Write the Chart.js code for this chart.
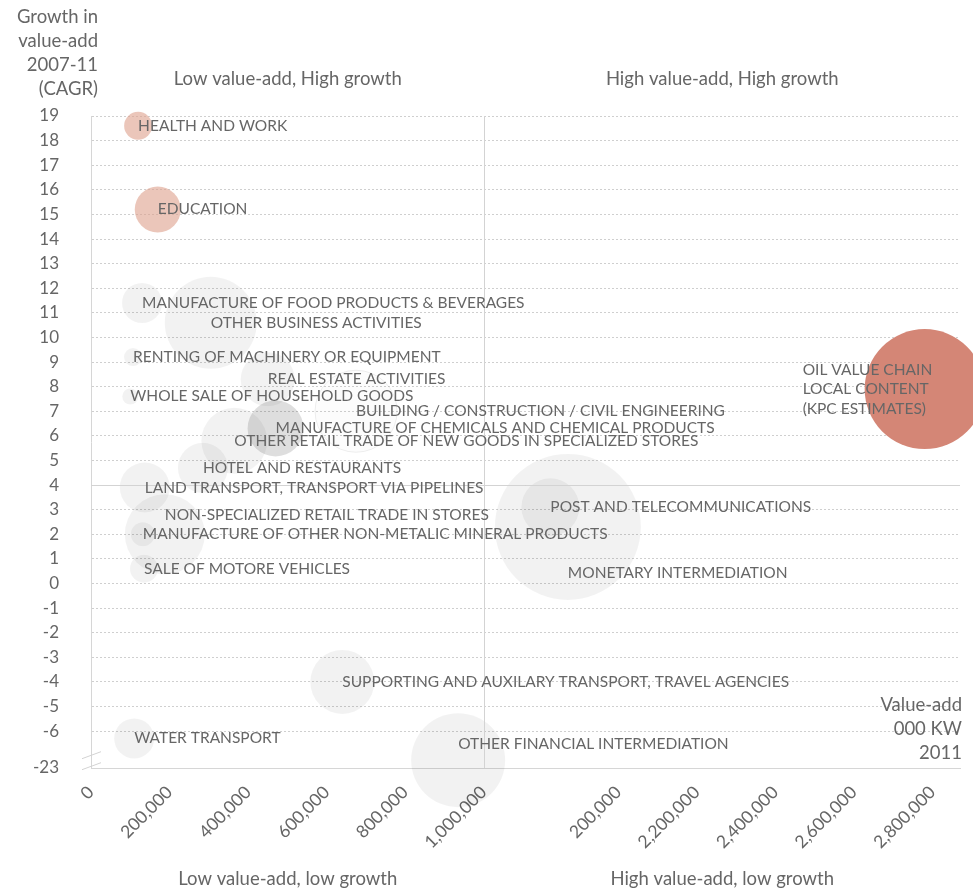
<!DOCTYPE html>
<html>
<head>
    <title>Value-add and growth by sector</title>
    <script src="https://cdn.jsdelivr.net/npm/chart.js"></script>
    <style>
        body { margin: 0; background: #fff; }
    </style>
</head>
<body>
    <canvas id="myChart" width="973" height="890"></canvas>

    <script>
        // sectors, value-add (000 KW, 2011) and growth in value-add (CAGR 2007-11, %)
        const sectors = [
            'HEALTH AND WORK',
            'EDUCATION',
            'MANUFACTURE OF FOOD PRODUCTS & BEVERAGES',
            'OTHER BUSINESS ACTIVITIES',
            'RENTING OF MACHINERY OR EQUIPMENT',
            'REAL ESTATE ACTIVITIES',
            'WHOLE SALE OF HOUSEHOLD GOODS',
            'BUILDING / CONSTRUCTION / CIVIL ENGINEERING',
            'OTHER RETAIL TRADE OF NEW GOODS IN SPECIALIZED STORES',
            'MANUFACTURE OF CHEMICALS AND CHEMICAL PRODUCTS',
            'HOTEL AND RESTAURANTS',
            'LAND TRANSPORT, TRANSPORT VIA PIPELINES',
            'NON-SPECIALIZED RETAIL TRADE IN STORES',
            'MANUFACTURE OF OTHER NON-METALIC MINERAL PRODUCTS',
            'SALE OF MOTORE VEHICLES',
            'MONETARY INTERMEDIATION',
            'POST AND TELECOMMUNICATIONS',
            'SUPPORTING AND AUXILARY TRANSPORT, TRAVEL AGENCIES',
            'WATER TRANSPORT',
            'OTHER FINANCIAL INTERMEDIATION',
            'OIL VALUE CHAIN\nLOCAL CONTENT\n(KPC ESTIMATES)'
        ];
        const valueAdd = [120000, 170000, 130000, 305000, 107000, 450000, 100000, 675000, 365000, 470000,
                          285000, 137000, 188000, 132000, 135000, 1625000, 1495000, 640000, 110000, 935000, 2780000];
        const growth = [18.6, 15.2, 11.4, 10.6, 9.2, 8.3, 7.6, 7.0, 5.8, 6.3,
                        4.7, 3.9, 2.0, 2.0, 0.6, 2.3, 3.1, -4.0, -6.3, -12.8, 7.9];
        const bubbleSize = [14, 23, 20, 46, 9, 27, 8, 41, 33, 28, 25, 25, 40, 12, 14, 73, 29, 32, 20, 47, 60];

        const xTickValues = [0, 200000, 400000, 600000, 800000, 1000000, 2000000, 2200000, 2400000, 2600000, 2800000];
        const xTickLabels = ['0', '200,000', '400,000', '600,000', '800,000', '1,000,000',
                             '200,000', '2,200,000', '2,400,000', '2,600,000', '2,800,000'];
        const yTickValues = [19, 18, 17, 16, 15, 14, 13, 12, 11, 10, 9, 8, 7, 6, 5, 4, 3, 2, 1, 0, -1, -2, -3, -4, -5, -6, -23];
        const yTickLabels = yTickValues.map(v => String(v));

        // both axes are broken: x jumps from 1,000,000 to 2,000,000, y from -7 to -23
        function breakX(v) {
            if (v <= 1000000) return v;
            if (v >= 2000000) return v - 657000;
            return 1000000 + (v - 1000000) * 0.343;
        }
        function breakY(v) {
            return v >= -7 ? v : -7 + (v + 7) * 0.5 / 16;
        }

        // label offsets where the label sits away from its bubble
        const labelShift = {
            'NON-SPECIALIZED RETAIL TRADE IN STORES': [0, -19],
            'MONETARY INTERMEDIATION': [0, 46],
            'OTHER FINANCIAL INTERMEDIATION': [0, -16],
            'OIL VALUE CHAIN\nLOCAL CONTENT\n(KPC ESTIMATES)': [-122, 0]
        };

        function bubbleColour(name) {
            if (name === 'HEALTH AND WORK' || name === 'EDUCATION') return 'rgba(222, 160, 140, 0.6)';
            if (name.startsWith('OIL')) return 'rgb(212, 134, 118)';
            if (name.startsWith('MANUFACTURE OF CHEMICALS')) return 'rgba(0, 0, 0, 0.13)';
            if (name.startsWith('BUILDING')) return 'rgba(0, 0, 0, 0.012)';
            return 'rgba(0, 0, 0, 0.05)';
        }

        const textColour = '#666666';
        const font = 'Lato, "Open Sans", sans-serif';

        const points = sectors.map((s, i) => ({ x: breakX(valueAdd[i]), y: breakY(growth[i]), r: bubbleSize[i] }));

        const extras = {
            id: 'extras',
            afterDatasetsDraw(chart) {
                const ctx = chart.ctx;
                const xs = chart.scales.x, ys = chart.scales.y;
                const area = chart.chartArea;

                // quadrant lines
                ctx.save();
                ctx.strokeStyle = '#d3d3d3';
                ctx.lineWidth = 1;
                const qx = Math.round(xs.getPixelForValue(breakX(1000000))) + 0.5;
                const qy = Math.round(ys.getPixelForValue(4)) + 0.5;
                ctx.beginPath();
                ctx.moveTo(qx, area.top); ctx.lineTo(qx, area.bottom);
                ctx.moveTo(area.left, qy); ctx.lineTo(area.right, qy);
                ctx.stroke();

                // y axis break marks
                const by = ys.getPixelForValue(-7);
                ctx.beginPath();
                ctx.moveTo(area.left - 9, by + 3); ctx.lineTo(area.left + 10, by - 4);
                ctx.moveTo(area.left - 9, by + 14); ctx.lineTo(area.left + 10, by + 7);
                ctx.stroke();

                // bubble labels
                ctx.fillStyle = textColour;
                ctx.font = '15.5px ' + font;
                ctx.textAlign = 'left';
                ctx.textBaseline = 'middle';
                const meta = chart.getDatasetMeta(0);
                sectors.forEach((s, i) => {
                    const el = meta.data[i];
                    const shift = labelShift[s] || [0, 0];
                    const lines = s.split('\n');
                    lines.forEach((line, j) => {
                        const dy = (j - (lines.length - 1) / 2) * 19.5;
                        ctx.fillText(line, el.x + shift[0], el.y + shift[1] + dy);
                    });
                });

                // quadrant titles and axis titles
                ctx.font = '18.5px ' + font;
                ctx.textAlign = 'center';
                const leftMid = (area.left + qx) / 2, rightMid = (qx + area.right) / 2;
                ctx.fillText('Low value-add, High growth', leftMid, 79);
                ctx.fillText('High value-add, High growth', rightMid, 79);
                ctx.fillText('Low value-add, low growth', leftMid, 879);
                ctx.fillText('High value-add, low growth', rightMid, 879);

                ctx.textAlign = 'right';
                ['Growth in', 'value-add', '2007-11', '(CAGR)'].forEach((t, j) => ctx.fillText(t, 98, 17 + j * 24));
                ['Value-add', '000 KW', '2011'].forEach((t, j) => ctx.fillText(t, area.right + 2, 705 + j * 24));
                ctx.restore();
            }
        };

        const ctx = document.getElementById('myChart').getContext('2d');
        const myChart = new Chart(ctx, {
            type: 'bubble',
            data: {
                datasets: [{
                    data: points,
                    backgroundColor: sectors.map(bubbleColour),
                    borderColor: sectors.map(s => s.startsWith('BUILDING') ? 'rgba(0,0,0,0.07)' : 'rgba(0,0,0,0)'),
                    borderWidth: sectors.map(s => s.startsWith('BUILDING') ? 1 : 0),
                    hoverRadius: 0
                }]
            },
            options: {
                responsive: false,
                devicePixelRatio: 1,
                animation: false,
                clip: false,
                layout: { autoPadding: false, padding: { left: 0, right: 13, top: 116, bottom: 32 } },
                plugins: {
                    legend: { display: false },
                    tooltip: { enabled: false }
                },
                scales: {
                    x: {
                        type: 'linear',
                        min: 0,
                        max: breakX(2870000),
                        afterBuildTicks: scale => { scale.ticks = xTickValues.map(v => ({ value: breakX(v) })); },
                        afterFit: scale => { scale.height = 90; },
                        ticks: {
                            autoSkip: false,
                            minRotation: 45,
                            maxRotation: 45,
                            padding: 6,
                            color: textColour,
                            font: { family: font, size: 17.5 },
                            callback: (v, i) => xTickLabels[i]
                        },
                        grid: { display: false },
                        border: { color: '#d6d6d6' }
                    },
                    y: {
                        type: 'linear',
                        min: breakY(-23),
                        max: 19,
                        afterBuildTicks: scale => { scale.ticks = yTickValues.map(v => ({ value: breakY(v) })); },
                        afterFit: scale => { scale.width = 91; },
                        ticks: {
                            padding: 32,
                            color: textColour,
                            font: { family: font, size: 17 },
                            callback: (v, i) => yTickLabels[i]
                        },
                        grid: {
                            drawTicks: false,
                            color: c => (c.tick && c.tick.value === breakY(-23)) ? 'rgba(0,0,0,0)' : '#cfcfcf'
                        },
                        border: { color: '#d6d6d6', dash: [2, 2] }
                    }
                }
            },
            plugins: [extras]
        });
    </script>
</body>
</html>
